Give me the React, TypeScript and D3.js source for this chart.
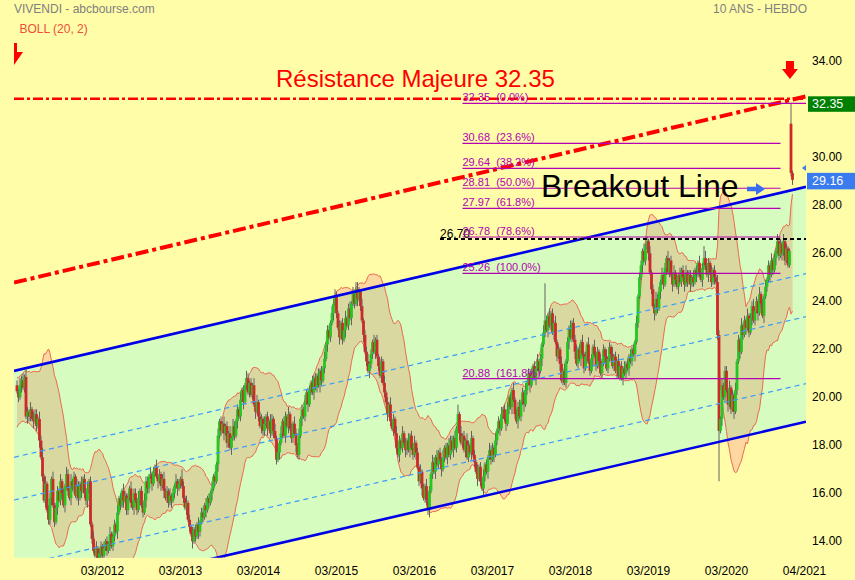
import React from "react";
import * as d3 from "d3";

// ---------- DATA ----------
// weekly closes before the first visible bar (only used for the Bollinger window)
const preCloses2010 = [19.0, 19.6, 19.2, 20.0, 20.4, 19.5, 19.1, 20.1, 20.6, 19.9, 19.3, 19.8, 20.5, 19.6, 20.7, 20.0, 19.4, 20.2, 20.6];

const closes2011 = [20.35, 20.1, 20.6, 20.8, 20.5, 20.95, 19.3, 19.5, 19.3, 19.6, 19.2, 19.1, 19.4, 18.9, 19.2, 18.3, 17.6, 16.8, 15.8, 16.5, 15.4, 15.0, 15.9, 16.7, 15.6, 14.9, 15.5, 16.2, 15.8, 16.6, 16.1, 15.6, 16.4, 16.9, 16.2, 15.9, 16.6, 16.3, 16.8, 16.0, 16.4, 15.9, 16.5, 16.2, 16.7, 16.1, 15.8, 16.3, 16.6, 14.8, 14.2, 13.7];
const closes2012 = [13.5, 13.8, 13.3, 13.6, 13.9, 13.5, 13.8, 14.1, 13.7, 14.0, 14.4, 13.9, 14.3, 14.8, 14.5, 15.3, 15.9, 15.6, 16.2, 15.8, 16.0, 15.4, 15.9, 16.3, 15.7, 15.5, 16.1, 15.8, 15.4, 15.9, 16.2, 15.6, 15.3, 15.8, 16.6, 16.3, 16.8, 16.9, 16.5, 17.0, 17.2, 16.8, 16.6, 16.9, 16.4, 16.7, 16.2, 15.9, 16.2, 15.7, 16.0, 15.8];
const closes2013 = [16.1, 16.4, 16.6, 16.3, 16.5, 16.7, 16.4, 15.9, 15.5, 15.7, 15.0, 14.7, 14.4, 14.1, 14.6, 14.3, 14.8, 14.5, 14.9, 15.3, 15.1, 15.6, 15.4, 15.9, 15.7, 16.1, 16.3, 16.8, 16.6, 17.3, 18.5, 19.1, 18.7, 19.0, 18.6, 18.9, 18.2, 18.6, 18.0, 18.4, 18.9, 18.5, 19.1, 19.6, 19.3, 20.0, 20.4, 19.9, 20.6, 20.9, 20.3, 20.7];
const closes2014 = [20.2, 20.6, 19.8, 19.5, 19.9, 19.3, 18.9, 19.2, 18.7, 19.0, 19.3, 18.8, 19.1, 18.6, 19.2, 18.7, 18.4, 17.5, 17.8, 18.2, 18.6, 19.1, 18.5, 19.3, 18.9, 19.4, 18.8, 18.4, 19.0, 18.6, 18.1, 17.7, 18.5, 19.2, 19.6, 19.3, 19.9, 20.3, 19.8, 20.4, 20.7, 20.3, 20.9, 20.5, 21.0, 20.6, 21.2, 20.8, 21.3, 21.7, 22.3, 22.9];
const closes2015 = [22.6, 23.2, 23.6, 24.0, 24.3, 23.6, 23.0, 22.6, 23.2, 22.5, 22.9, 23.4, 23.1, 23.8, 23.4, 24.0, 24.4, 24.0, 24.6, 24.2, 24.5, 23.9, 23.3, 22.7, 22.0, 21.6, 21.2, 21.5, 21.9, 22.4, 22.0, 22.5, 21.8, 21.4, 21.0, 21.6, 20.7, 20.3, 19.9, 19.4, 19.8, 19.1, 18.8, 19.2, 18.6, 18.0, 17.7, 18.3, 18.0, 18.6, 18.2, 17.9];
const closes2016 = [18.3, 17.9, 18.5, 18.0, 17.7, 18.2, 17.8, 17.2, 16.6, 17.0, 16.3, 15.9, 16.4, 15.8, 15.4, 16.2, 16.9, 17.4, 17.0, 17.6, 17.3, 17.8, 17.5, 17.1, 17.6, 18.0, 17.6, 18.1, 17.7, 18.3, 17.9, 18.4, 18.0, 18.8, 19.4, 18.6, 18.2, 18.5, 17.9, 18.3, 17.6, 18.1, 17.8, 18.4, 17.7, 17.4, 17.0, 16.7, 17.2, 16.6, 16.3, 16.8];
const closes2017 = [17.3, 17.0, 17.6, 17.9, 17.5, 18.0, 17.7, 18.3, 18.7, 19.1, 18.8, 19.4, 19.6, 19.2, 19.0, 19.6, 20.1, 19.7, 20.4, 20.0, 19.4, 19.1, 19.7, 19.3, 19.9, 20.3, 19.8, 20.4, 20.7, 21.1, 20.6, 21.0, 21.4, 20.9, 21.3, 21.6, 21.2, 21.7, 22.3, 22.8, 23.3, 22.9, 23.5, 23.1, 23.6, 22.8, 23.2, 22.4, 21.8, 22.1, 21.5, 20.8];
const closes2018 = [21.2, 20.7, 21.6, 22.4, 23.0, 22.6, 23.2, 22.5, 22.0, 21.5, 22.1, 21.7, 22.4, 21.9, 21.3, 21.8, 22.3, 21.6, 21.2, 21.7, 22.2, 21.9, 21.4, 22.0, 21.6, 21.1, 21.5, 22.1, 21.8, 21.3, 21.7, 22.2, 21.9, 21.4, 21.8, 21.2, 21.6, 21.0, 21.4, 20.9, 21.3, 21.1, 21.5, 21.3, 21.8, 21.6, 22.1, 21.9, 22.4, 23.2, 24.3, 25.1];
const closes2019 = [25.6, 26.2, 25.8, 26.4, 26.6, 26.1, 25.3, 24.6, 23.9, 23.6, 24.2, 23.8, 24.5, 24.9, 25.2, 24.8, 25.5, 25.9, 25.3, 25.8, 25.2, 24.8, 25.3, 25.0, 24.7, 25.2, 24.9, 25.4, 25.1, 24.8, 25.3, 24.9, 25.2, 24.8, 25.1, 24.9, 25.4, 25.2, 25.7, 25.3, 25.0, 25.5, 25.9, 25.6, 25.2, 25.7, 25.3, 24.9, 25.4, 25.1, 24.9, 22.7];
const closes2020 = [18.7, 19.2, 20.6, 20.1, 21.2, 20.4, 19.8, 20.5, 19.6, 20.2, 19.5, 20.4, 21.6, 22.5, 22.0, 23.1, 22.7, 23.3, 23.0, 23.5, 22.8, 23.4, 23.9, 23.3, 23.7, 24.1, 23.6, 24.4, 24.0, 23.5, 24.3, 24.7, 25.0, 25.6, 25.2, 25.8, 25.4, 25.9, 26.2, 26.6, 26.0, 26.5, 26.1, 26.6, 25.8, 26.3, 25.6, 26.2];
const finalCandles = [
  { open: 31.5, high: 32.35, low: 29.3, close: 29.45 },
  { open: 29.45, high: 29.55, low: 28.95, close: 29.16 },
];

// wick lengths in tenths (base 36), one string per year
const wickUp = [
  "2132312213132213241312213122131213223121321312231213",
  "1312213121312213121321213122131213221312131212312131",
  "2131214213121312131221312131213121312131321213121321",
  "2131312213121321312131221312132131213122131213121312",
  "2132321312131231312321312231213121321312131213121312",
  "1312231213121312132131213121322131213121321312131213",
  "1213221312131213121312231213121312131213121312131213",
  "1312131223121312131213121322131213121312131213121312",
  "2131213121322131213121312131213122131213121312131213",
  "2131221312131213121312231213121312131213121312",
];
const wickDown = [
  "1213121322131213121312231213122131213121231312232121",
  "2131213121312213121312212131213121322131213121312213",
  "1213121213121312132121312131213121312213121312131212",
  "1213121322131213121312131312213121312131213121321213",
  "1213121312131213121312131213221312131213121312131213",
  "2131213121312213121312131213121312131213121312131213",
  "2131213121312131213121312131213121312131213121312131",
  "2121312131213121312131213121312131213121312131213121",
  "1312131213121312131213121312131213121312131213121312",
  "2131213121312131213121312131213121312131213121",
];
const notableHighs = [[6, 21.25], [212, 24.5], [226, 24.9], [294, 19.8], [352, 24.85], [458, 26.4]];
const notableLows = [[117, 14.0], [274, 15.2], [468, 16.6]];

const yTicks = [14, 16, 18, 20, 22, 24, 26, 28, 30, 34];
const xTickBars = [57, 109, 161, 213, 265, 317, 369, 421, 473, 525];
const xTickLabels = ["03/2012", "03/2013", "03/2014", "03/2015", "03/2016", "03/2017", "03/2018", "03/2019", "03/2020", "04/2021"];

const fibLevels = [32.35, 30.68, 29.64, 28.81, 27.97, 26.78, 25.26, 20.88];
const fibPercents = ["0.0%", "23.6%", "38.2%", "50.0%", "61.8%", "78.6%", "100.0%", "161.8%"];
const fibBars = [297, 509];
const supportLevel = 26.7;
const supportBars = [282, 526];
const resistanceLevel = 32.35;
const resistanceLineLevel = 32.54;
const lastPrice = 29.16;

const channelUpper = [[-2, 21.2], [526, 28.87]];
const channelLower = [[-2, 11.47], [526, 19.08]];
const channelInner = [
  [[-2, 17.6], [526, 25.25]],
  [[-2, 15.82], [526, 23.46]],
  [[-2, 13.05], [526, 20.67]],
];
const risingResistance = [[-2, 24.88], [526, 32.64]];
const markerBars = [-2, 515.3];
const bollPeriod = 20;
const bollK = 2;

// ---------- COLORS ----------
const BG = "#FFFDA8";
const GREEN_ZONE = "#D7FCBF";
const BAND_OUT = "#FFD7A0";
const BAND_IN = "#D8D8A0";
const BAND_LINE = "#EB6A50";
const FONT = "'Liberation Sans', Arial, sans-serif";

export default function App() {
  const W = 855, H = 580;
  const plotL = 14, plotR = 806, plotB = 557.7;
  const x = d3.scaleLinear().domain([-2, 526]).range([plotL, plotR]);
  const y = d3.scaleLinear().domain([14, 34]).range([543.7, 63.7]);

  const closeYears = [closes2011, closes2012, closes2013, closes2014, closes2015, closes2016, closes2017, closes2018, closes2019, closes2020];
  const candles: { i: number; o: number; h: number; l: number; c: number }[] = [];
  let prev = preCloses2010[preCloses2010.length - 1];
  closeYears.forEach((arr, yi) => {
    arr.forEach((c, j) => {
      const i = candles.length;
      const o = prev;
      const u = parseInt(wickUp[yi][j] ?? "1", 36) / 10;
      const dn = parseInt(wickDown[yi][j] ?? "1", 36) / 10;
      candles.push({ i, o, c, h: Math.max(o, c) + u, l: Math.min(o, c) - dn });
      prev = c;
    });
  });
  finalCandles.forEach((d) => {
    candles.push({ i: candles.length, o: d.open, h: d.high, l: d.low, c: d.close });
  });
  notableHighs.forEach(([i, v]) => { if (candles[i]) candles[i].h = Math.max(candles[i].h, v); });
  notableLows.forEach(([i, v]) => { if (candles[i]) candles[i].l = Math.min(candles[i].l, v); });

  const allCloses = [...preCloses2010, ...candles.map((d) => d.c)];
  const off = preCloses2010.length;
  const band = candles.map((d) => {
    const win = allCloses.slice(d.i + off - bollPeriod + 1, d.i + off + 1);
    const m = d3.mean(win) as number;
    const sd = Math.sqrt(d3.mean(win, (v) => (v - m) * (v - m)) as number);
    return { i: d.i, up: m + bollK * sd, lo: m - bollK * sd };
  });

  const area = d3.area<any>().x((d) => x(d.i)).y0((d) => y(d.lo)).y1((d) => y(d.up));
  const upLine = d3.line<any>().x((d) => x(d.i)).y((d) => y(d.up));
  const loLine = d3.line<any>().x((d) => x(d.i)).y((d) => y(d.lo));
  const seg = d3.line<number[]>().x((d) => x(d[0])).y((d) => y(d[1]));
  const channelPoly = seg([channelUpper[0], channelUpper[1], channelLower[1], channelLower[0]]) + "Z";

  const arrowDown = (cx: number, top: number, sw: number, hw: number, sh: number, hh: number) =>
    `M${cx - sw},${top}H${cx + sw}V${top + sh}H${cx + hw}L${cx},${top + sh + hh}L${cx - hw},${top + sh}H${cx - sw}Z`;

  return (
    <svg width={W} height={H} style={{ position: "absolute", left: 0, top: 0, display: "block" }} fontFamily={FONT}>
      <defs>
        <clipPath id="plotClip"><rect x={plotL} y={0} width={plotR - plotL} height={plotB} /></clipPath>
        <clipPath id="chanClip"><path d={channelPoly} /></clipPath>
      </defs>
      <rect x={0} y={0} width={W} height={H} fill={BG} />
      <g clipPath="url(#plotClip)">
        <path d={channelPoly} fill={GREEN_ZONE} />
        <path d={area(band) as string} fill={BAND_OUT} />
        <g clipPath="url(#chanClip)">
          <path d={area(band) as string} fill={BAND_IN} />
        </g>
        <path d={upLine(band) as string} fill="none" stroke={BAND_LINE} strokeWidth={1} />
        <path d={loLine(band) as string} fill="none" stroke={BAND_LINE} strokeWidth={1} />

        {candles.map((d) => {
          const up = d.c >= d.o;
          const top = y(Math.max(d.o, d.c));
          const hgt = Math.max(1.2, Math.abs(y(d.o) - y(d.c)));
          return (
            <g key={d.i}>
              <line x1={x(d.i)} x2={x(d.i)} y1={y(d.h)} y2={y(d.l)} stroke="#636363" strokeWidth={1} />
              <rect x={x(d.i) - 1.4} y={top} width={2.8} height={hgt} fill={up ? "#22C822" : "#CC2A2A"} />
            </g>
          );
        })}

        {channelInner.map((l, k) => (
          <path key={k} d={seg(l) as string} stroke="#3A9BFF" strokeWidth={1.2} strokeDasharray="5,4" fill="none" />
        ))}
        <path d={seg(channelUpper) as string} stroke="#0000E8" strokeWidth={2.6} fill="none" />
        <path d={seg(channelLower) as string} stroke="#0000E8" strokeWidth={2.6} fill="none" />
        <path d={seg(risingResistance) as string} stroke="#FF0000" strokeWidth={4} strokeDasharray="13,4,4,4" fill="none" />
        <path d={seg([[-2, resistanceLineLevel], [526, resistanceLineLevel]]) as string} stroke="#FF0000" strokeWidth={2.4} strokeDasharray="10,3,3,3" fill="none" />

        {fibLevels.map((v, k) => (
          <line key={k} x1={x(fibBars[0])} x2={k === 0 ? x(526) : x(fibBars[1])} y1={y(v)} y2={y(v)} stroke="#B400B4" strokeWidth={1.2} />
        ))}
        <line x1={x(supportBars[0])} x2={x(supportBars[1])} y1={y(supportLevel)} y2={y(supportLevel)} stroke="#000" strokeWidth={2} strokeDasharray="4,3" />
        <text x={x(supportBars[0])} y={y(supportLevel) - 1} fontSize={12} fill="#000">{supportLevel.toFixed(2)}</text>
        {fibLevels.map((v, k) => (
          <text key={k} x={x(fibBars[0])} y={y(v) - 2} fontSize={11} fill="#B400B4" style={{ whiteSpace: "pre" }}>
            {`${v.toFixed(2)}  (${fibPercents[k]})`}
          </text>
        ))}

        <path d={arrowDown(x(markerBars[0]), 43, 3, 9, 9, 13)} fill="#FF0000" />
        <path d={arrowDown(x(markerBars[1]), 61, 4, 8, 8, 10)} fill="#FF0000" />
        <path d={`M${x(526)},${y(29.65) - 3}L${x(526)},${y(29.65) + 3}L${x(526) - 4},${y(29.65)}Z`} fill="#3B7BF0" />
      </g>

      <text x={276} y={87} fontSize={24} fill="#FF0000">{`Résistance Majeure ${resistanceLevel.toFixed(2)}`}</text>
      <text x={541} y={197} fontSize={32} fill="#000">Breakout Line</text>
      <path d="M747,186.8H756V183L765,189L756,195V191.2H747Z" fill="#3A6CF0" />

      <text x={14} y={13.3} fontSize={12} fill="#7F7F7F">VIVENDI - abcbourse.com</text>
      <text x={713} y={13.3} fontSize={12} fill="#7F7F7F">10 ANS - HEBDO</text>
      <text x={19.5} y={33.3} fontSize={12} fill="#EE4E3A">BOLL (20, 2)</text>

      {yTicks.map((v) => (
        <text key={v} x={812} y={y(v) + 1.5} fontSize={12} fill="#000">{v.toFixed(2)}</text>
      ))}
      {xTickBars.map((b, k) => (
        <text key={b} x={x(b)} y={575} fontSize={12} fill="#000" textAnchor="middle">{xTickLabels[k]}</text>
      ))}

      <rect x={808} y={y(resistanceLevel) - 7} width={47} height={15.5} fill="#008000" />
      <text x={812} y={y(resistanceLevel) + 5} fontSize={12.5} fill="#fff">{resistanceLevel.toFixed(2)}</text>
      <rect x={807} y={y(lastPrice) - 7} width={48} height={16.5} fill="#3B7BF0" />
      <text x={812} y={y(lastPrice) + 5.5} fontSize={12.5} fill="#fff">{lastPrice.toFixed(2)}</text>
    </svg>
  );
}
